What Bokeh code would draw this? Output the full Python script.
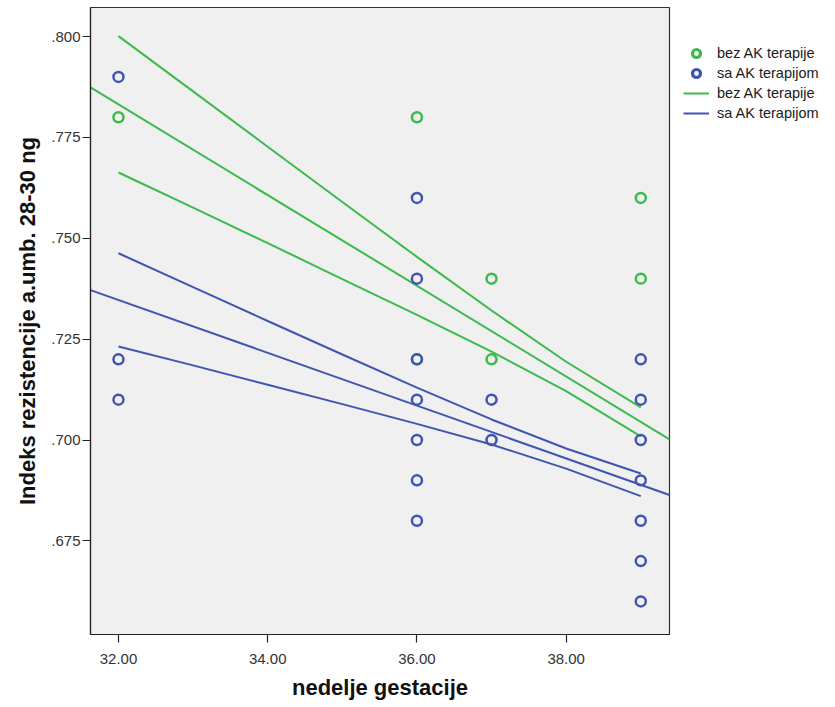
from bokeh.plotting import figure
from bokeh.models import Range1d, FixedTicker, Legend, LegendItem
from bokeh.embed import file_html
from bokeh.resources import INLINE

# Observations: gestational week vs. umbilical artery resistance index
bez_weeks = [32, 36, 36, 37, 37, 39, 39]
bez_ri = [0.780, 0.780, 0.720, 0.740, 0.720, 0.760, 0.740]

sa_weeks = [32, 32, 32, 36, 36, 36, 36, 36, 36, 36, 37, 37,
            39, 39, 39, 39, 39, 39, 39]
sa_ri = [0.790, 0.720, 0.710, 0.760, 0.740, 0.720, 0.710, 0.700, 0.690, 0.680,
         0.710, 0.700, 0.720, 0.710, 0.700, 0.690, 0.680, 0.670, 0.660]

# Fitted regression lines (value at week 32 and week 39)
fit_weeks = [32, 39]
bez_fit = [0.7832, 0.7045]
sa_fit = [0.7347, 0.6889]

# 95% confidence bounds of the mean
ci_weeks = [32, 33, 34, 35, 36, 37, 38, 39]
bez_ci_upper = [0.8001, 0.7864, 0.7727, 0.7590, 0.7454, 0.7321, 0.7194, 0.7081]
bez_ci_lower = [0.7663, 0.7576, 0.7488, 0.7399, 0.7310, 0.7219, 0.7121, 0.7009]
sa_ci_upper = [0.7463, 0.7379, 0.7295, 0.7212, 0.7130, 0.7051, 0.6979, 0.6917]
sa_ci_lower = [0.7232, 0.7185, 0.7137, 0.7089, 0.7040, 0.6989, 0.6929, 0.6861]

x_ticks = [32, 34, 36, 38]
y_ticks = [0.675, 0.700, 0.725, 0.750, 0.775, 0.800]

GREEN = "#3cba4b"
BLUE = "#4055b2"
FONT = "Liberation Sans"

X_LO, X_HI = 31.625, 39.385
Y_LO, Y_HI = 0.6518, 0.8072

p = figure(width=835, height=707, frame_width=579, frame_height=627,
           output_backend="svg", toolbar_location=None,
           x_range=Range1d(X_LO, X_HI), y_range=Range1d(Y_LO, Y_HI),
           min_border_left=90, min_border_right=166,
           min_border_top=7, min_border_bottom=73)

p.background_fill_color = "#f0f0f0"
p.border_fill_color = "white"
p.outline_line_color = "#333333"
p.outline_line_width = 1.2
p.xgrid.visible = False
p.ygrid.visible = False


def extend(xs, ys):
    slope = (ys[1] - ys[0]) / (xs[1] - xs[0])
    return [X_LO, X_HI], [ys[0] + slope * (X_LO - xs[0]), ys[0] + slope * (X_HI - xs[0])]


# Confidence bounds
for upper, lower, col in ((bez_ci_upper, bez_ci_lower, GREEN), (sa_ci_upper, sa_ci_lower, BLUE)):
    p.line(ci_weeks, upper, line_color=col, line_width=2)
    p.line(ci_weeks, lower, line_color=col, line_width=2)

# Fit lines across the whole axis
bx, by = extend(fit_weeks, bez_fit)
sx, sy = extend(fit_weeks, sa_fit)
bez_line = p.line(bx, by, line_color=GREEN, line_width=2)
sa_line = p.line(sx, sy, line_color=BLUE, line_width=2)

# Points
bez_pts = p.scatter(bez_weeks, bez_ri, marker="circle", size=10, fill_color=None,
                    line_color=GREEN, line_width=2.5)
sa_pts = p.scatter(sa_weeks, sa_ri, marker="circle", size=10, fill_color=None,
                   line_color=BLUE, line_width=2.5)

# Key markers, drawn heavier than the data points; their one point lies off the axes
bez_key = p.scatter([0], [0], marker="circle", size=12, fill_color=None,
                    line_color=GREEN, line_width=3.2)
sa_key = p.scatter([0], [0], marker="circle", size=12, fill_color=None,
                   line_color=BLUE, line_width=3.2)

# Axes
p.xaxis.ticker = FixedTicker(ticks=x_ticks)
p.xaxis.major_label_overrides = {t: f"{t:.2f}" for t in x_ticks}
p.yaxis.ticker = FixedTicker(ticks=y_ticks)
p.yaxis.major_label_overrides = {t: f"{t:.3f}"[1:] for t in y_ticks}
for ax in (p.xaxis, p.yaxis):
    ax.minor_tick_line_color = None
    ax.major_tick_in = 0
    ax.major_tick_out = 8
    ax.major_tick_line_color = "#222222"
    ax.major_tick_line_width = 1.2
    ax.axis_line_color = "#222222"
    ax.axis_line_width = 1.2
    ax.major_label_text_font = FONT
    ax.major_label_text_font_size = "15px"
    ax.major_label_text_color = "#333333"
    ax.axis_label_text_font = FONT
    ax.axis_label_text_font_size = "22px"
    ax.axis_label_text_font_style = "bold"
    ax.axis_label_text_color = "#111111"

p.xaxis.axis_label = "nedelje gestacije"
p.yaxis.axis_label = "Indeks rezistencije a.umb. 28-30 ng"
p.xaxis.major_label_standoff = 11
p.xaxis.axis_label_standoff = 8
p.yaxis.major_label_standoff = 2
p.yaxis.axis_label_standoff = 8

legend = Legend(items=[
    LegendItem(label="bez AK terapije", renderers=[bez_key]),
    LegendItem(label="sa AK terapijom", renderers=[sa_key]),
    LegendItem(label="bez AK terapije", renderers=[bez_line]),
    LegendItem(label="sa AK terapijom", renderers=[sa_line]),
], location="top_left", title=" ")
legend.title_text_font_size = "13px"
legend.title_standoff = 7
legend.background_fill_alpha = 0
legend.border_line_color = None
legend.label_text_font = FONT
legend.label_text_font_size = "14.5px"
legend.label_text_color = "#1a1a1a"
legend.glyph_width = 26
legend.glyph_height = 20
legend.label_height = 20
legend.label_standoff = 8
legend.spacing = 0
legend.padding = 4
legend.margin = 14
p.add_layout(legend, "right")

open("out.html", "w").write(file_html(p, INLINE))
